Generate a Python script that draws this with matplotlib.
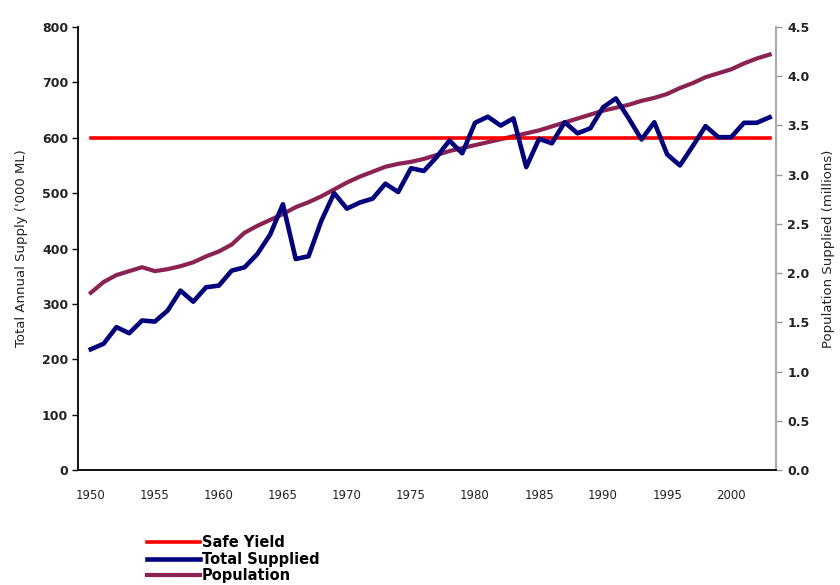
import numpy as np
import matplotlib
matplotlib.use("Agg")
import matplotlib.pyplot as plt

years = np.arange(1950, 2004)

# Total supplied ('000 ML)
total_supplied = [218, 228, 258, 247, 270, 268, 288, 324, 304, 330,
                  333, 360, 366, 390, 425, 480, 381, 386, 450, 500,
                  472, 483, 490, 517, 502, 545, 540, 565, 595, 572,
                  627, 638, 622, 635, 547, 598, 590, 628, 608, 617,
                  655, 671, 635, 597, 628, 570, 550, 585, 621, 601,
                  601, 627, 627, 637]

# Population supplied (millions)
population = [1.80, 1.91, 1.98, 2.02, 2.06, 2.02, 2.04, 2.07, 2.11, 2.17,
              2.22, 2.29, 2.41, 2.48, 2.54, 2.60, 2.67, 2.72, 2.78, 2.85,
              2.92, 2.98, 3.03, 3.08, 3.11, 3.13, 3.16, 3.20, 3.24, 3.27,
              3.30, 3.33, 3.36, 3.39, 3.42, 3.45, 3.49, 3.53, 3.57, 3.61,
              3.65, 3.68, 3.71, 3.75, 3.78, 3.82, 3.88, 3.93, 3.99, 4.03,
              4.07, 4.13, 4.18, 4.22]

safe_yield = [600] * len(years)

left_ticks = [0, 100, 200, 300, 400, 500, 600, 700, 800]
right_ticks = [0.0, 0.5, 1.0, 1.5, 2.0, 2.5, 3.0, 3.5, 4.0, 4.5]
year_ticks = [1950, 1955, 1960, 1965, 1970, 1975, 1980, 1985, 1990, 1995, 2000]

plt.rcParams['font.family'] = ['DejaVu Sans']

fig = plt.figure(figsize=(8.4, 5.85), dpi=100)
ax = fig.add_axes([78 / 840, 1 - 470 / 585, 698 / 840, 443 / 585])
ax2 = ax.twinx()

l1, = ax.plot(years, safe_yield, color='#ff0000', lw=2.6, zorder=3)
l2, = ax.plot(years, total_supplied, color='#000080', lw=3.3, zorder=4)
l3, = ax2.plot(years, population, color='#8b2252', lw=3.0, zorder=2)

ax.set_zorder(ax2.get_zorder() + 1)
ax.patch.set_visible(False)

ax.set_xlim(1949.0, 2003.5)
ax.set_ylim(0, 800)
ax2.set_ylim(0, 4.5)

ax.set_yticks(left_ticks)
ax.set_yticklabels([str(v) for v in left_ticks], fontsize=9, fontweight='bold', color='#222222')
ax2.set_yticks(right_ticks)
ax2.set_yticklabels(['%.1f' % v for v in right_ticks], fontsize=9, fontweight='bold', color='#222222')
ax.set_xticks(year_ticks)
ax.set_xticklabels([str(y) for y in year_ticks], fontsize=8.5, color='#222222')

ax.tick_params(axis='x', length=0, pad=14)
ax.tick_params(axis='y', length=4, width=1, direction='out', pad=3)
ax2.tick_params(axis='y', length=4, width=1, color='#999999', direction='out', pad=4)

for a in (ax, ax2):
    a.spines['top'].set_visible(False)
ax.spines['right'].set_visible(False)
ax2.spines['left'].set_visible(False)
ax2.spines['bottom'].set_visible(False)
ax2.spines['right'].set_color('#aaaaaa')
ax2.spines['right'].set_linewidth(1.5)
ax.spines['left'].set_linewidth(1.3)
ax.spines['bottom'].set_linewidth(1.3)

ax.set_ylabel("Total Annual Supply ('000 ML)", fontsize=9.5, color='#222222', labelpad=10)
ax2.set_ylabel("Population Supplied (millions)", fontsize=9.5, color='#222222', labelpad=9)

fig.legend([l1, l2, l3], ['Safe Yield', 'Total Supplied', 'Population'],
           loc='upper left', bbox_to_anchor=(140 / 840, 1 - 528 / 585),
           frameon=False, handlelength=3.6, handletextpad=0.15,
           labelspacing=0.1, borderpad=0,
           prop={'size': 10.5, 'weight': 'bold'})

fig.savefig('out.png', dpi=100)
